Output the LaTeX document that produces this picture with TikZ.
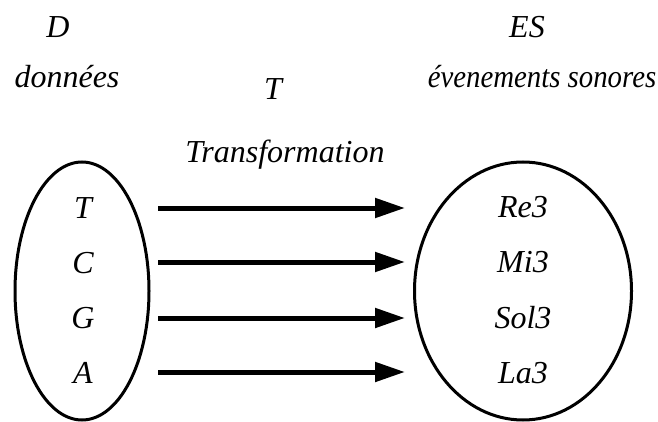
\documentclass[tikz,border=0pt]{standalone}
\usepackage{fontspec}
\setmainfont{Liberation Serif}
\usetikzlibrary{shapes.geometric,arrows.meta}
\tikzset{
  lbl/.style={font=\fontsize{32}{38}\selectfont\itshape, inner sep=0pt, anchor=center},
  setshape/.style={draw, ellipse, line width=3pt, inner sep=0pt},
  maparrow/.style={line width=5pt, -{Triangle[length=30pt,width=19pt]}}
}
\begin{document}
\begin{tikzpicture}[x=1pt,y=-1pt]
\useasboundingbox (0,0) rectangle (658,422);
% headings
\node[lbl] (D) at (58,27) {D};
\node[lbl] (donnees) at (67,77) {données};
\node[lbl] (Tt) at (273,89) {T};
\node[lbl] (transf) at (285,155) {Transformation};
\node[lbl] (ES) at (527,27) {ES};
\node[lbl, xscale=0.9] (evs) at (542,77) {évenements sonores};
% sets
\node[setshape, minimum width=134pt, minimum height=258pt] (left) at (82,291) {};
\node[setshape, minimum width=217pt, minimum height=258pt] (right) at (523,291) {};
% elements
\node[lbl] (t) at (83,208) {T};
\node[lbl] (c) at (83,263) {C};
\node[lbl] (g) at (83,318) {G};
\node[lbl] (a) at (83,373) {A};
\node[lbl] (re) at (523,207) {Re3};
\node[lbl] (mi) at (523,262) {Mi3};
\node[lbl] (sol) at (523,318) {Sol3};
\node[lbl] (la) at (523,373) {La3};
% arrows
\coordinate (s1) at (158,208); \coordinate (e1) at (405,208);
\coordinate (s2) at (158,262); \coordinate (e2) at (405,262);
\coordinate (s3) at (158,318); \coordinate (e3) at (405,318);
\coordinate (s4) at (158,372); \coordinate (e4) at (405,372);
\draw[maparrow] (s1) -- (e1);
\draw[maparrow] (s2) -- (e2);
\draw[maparrow] (s3) -- (e3);
\draw[maparrow] (s4) -- (e4);
\end{tikzpicture}
\end{document}
